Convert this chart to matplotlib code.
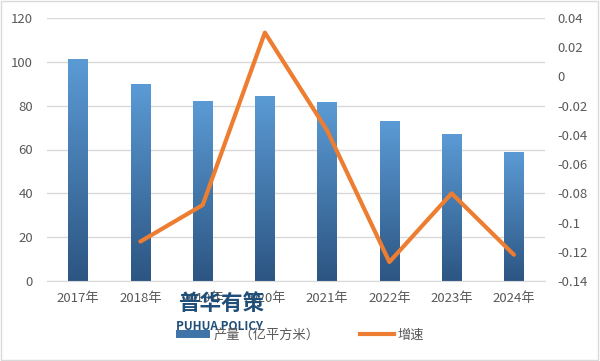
import numpy as np
import matplotlib
matplotlib.use("Agg")
import matplotlib.pyplot as plt
from matplotlib.patches import Rectangle
from matplotlib.lines import Line2D
from matplotlib.colors import LinearSegmentedColormap

plt.rcParams['font.family'] = ['Noto Sans CJK SC', 'DejaVu Sans']

years = ["2017年", "2018年", "2019年", "2020年", "2021年", "2022年", "2023年", "2024年"]
output = [101.3, 90.0, 82.2, 84.5, 81.7, 73.0, 67.0, 58.9]
growth_years = ["2018年", "2019年", "2020年", "2021年", "2022年", "2023年", "2024年"]
growth = [-0.113, -0.088, 0.030, -0.037, -0.127, -0.080, -0.122]

GRAY = "#595959"
ORANGE = "#ED7D31"
grad = LinearSegmentedColormap.from_list("bar", ["#2C5582", "#5B9BD5"])

fig = plt.figure(figsize=(6, 3.61), dpi=100)
ax = fig.add_axes([47/600, 1 - 281/361, (545-47)/600, (281-18)/361])
ax2 = ax.twinx()

x = np.arange(len(years))
bars = ax.bar(x, output, width=0.31, color="none", zorder=2)
for b in bars:
    # vertical gradient clipped to each bar
    g = np.linspace(0, 1, 256).reshape(-1, 1)
    im = ax.imshow(g, cmap=grad, aspect="auto", origin="lower", zorder=2,
                   extent=[b.get_x(), b.get_x() + b.get_width(), 0, b.get_height()])
    im.set_clip_path(b)

gx = [years.index(y) for y in growth_years]
ax2.plot(gx, growth, color=ORANGE, lw=3, zorder=3, solid_capstyle="round")

ax.set_xlim(-0.5, len(years) - 0.5)
ax.set_ylim(0, 120)
ax.set_yticks(range(0, 121, 20))
ax2.set_ylim(-0.14, 0.04)
ax2.set_yticks(np.round(np.arange(-0.14, 0.041, 0.02), 2))
ax2.set_yticklabels(["-0.14", "-0.12", "-0.1", "-0.08", "-0.06", "-0.04", "-0.02", "0", "0.02", "0.04"])
ax.set_xticks(x)
ax.set_xticklabels(years)

ax.grid(axis="y", color="#D9D9D9", lw=1, zorder=0)
ax.set_axisbelow(True)
for a in (ax, ax2):
    for s in a.spines.values():
        s.set_visible(False)
    a.tick_params(length=0, colors=GRAY, labelsize=9.5)
ax.spines["bottom"].set_visible(True)
ax.spines["bottom"].set_color("#D9D9D9")
ax.tick_params(axis="y", pad=10)
ax.tick_params(axis="x", pad=8)
ax2.tick_params(axis="y", pad=9)
ax2.patch.set_visible(False)

# legend
bar_handle = Rectangle((0, 0), 1, 1, facecolor="#3F74A8")
line_handle = Line2D([], [], color=ORANGE, lw=3)
fig.legend([bar_handle, line_handle], ["产量（亿平方米）", "增速"], loc="center",
           bbox_to_anchor=(0.5, 1 - 335/361), ncol=2, frameon=False, fontsize=9.5,
           labelcolor=GRAY, handlelength=2.6, handleheight=0.6, columnspacing=3, handletextpad=0.3)

# watermark
fig.text(221/600, 1 - 303/361, "普华有策", ha="center", va="center", fontsize=15.5,
         fontweight="heavy", color="#1F4E79")
fig.text(220/600, 1 - 326/361, "PUHUA POLICY", ha="center", va="center", fontsize=8.5,
         fontweight="bold", color="#1F4E79")

fig.patches.append(Rectangle((0.002, 0.003), 0.995, 0.993, transform=fig.transFigure,
                             fill=False, edgecolor="#D9D9D9", lw=1))

fig.savefig("out.png", dpi=100)
